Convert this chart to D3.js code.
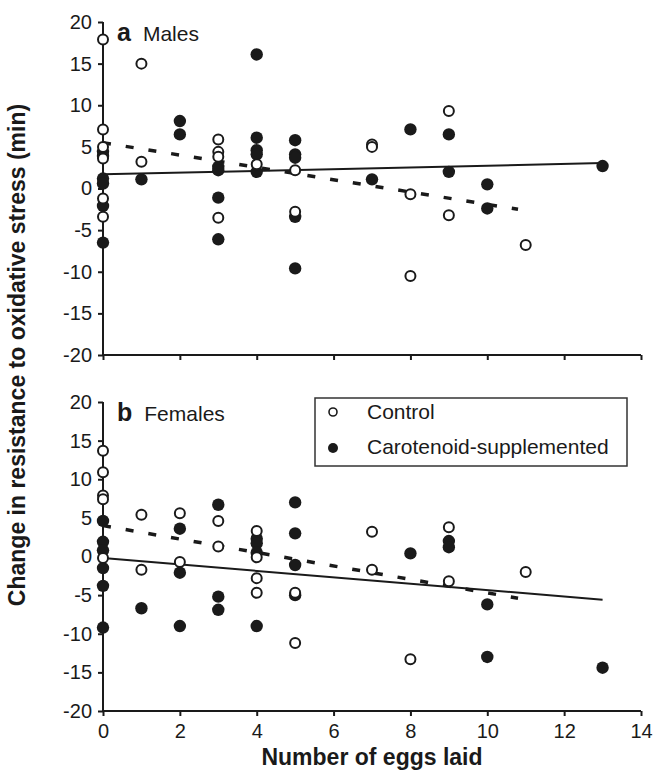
<!DOCTYPE html>
<html>
<head>
<meta charset="utf-8">
<script src="https://cdn.jsdelivr.net/npm/d3@7"></script>
<style>
  body { margin: 0; background: #fff; }
  text { font-family: "Liberation Sans", Arial, sans-serif; fill: #1a1a1a; }
</style>
</head>
<body>
<div id="chart"></div>
<script>
// data: [eggs laid, change in resistance (min)]
var malesControl = [
  [0,17.9],[0,7.1],[0,5.0],[0,3.6],[0,-1.2],[0,-3.4],
  [1,15.0],[1,3.2],
  [3,5.9],[3,4.4],[3,3.8],[3,-3.5],
  [4,2.9],
  [5,2.2],[5,-2.8],
  [7,5.3],[7,5.0],
  [8,-0.7],[8,-10.5],
  [9,9.3],[9,-3.2],
  [11,-6.8]
];
var malesCarotenoid = [
  [0,4.4],[0,3.9],[0,1.2],[0,0.6],[0,-2.1],[0,-6.5],
  [1,1.1],
  [2,8.1],[2,6.5],
  [3,2.6],[3,2.2],[3,-1.1],[3,-6.1],
  [4,16.1],[4,6.1],[4,4.6],[4,4.1],[4,2.0],
  [5,5.8],[5,4.1],[5,3.7],[5,-3.4],[5,-9.6],
  [7,1.1],
  [8,7.1],
  [9,6.5],[9,2.0],
  [10,0.5],[10,-2.4],
  [13,2.7]
];
var femalesControl = [
  [0,13.7],[0,10.9],[0,7.9],[0,7.4],[0,-0.2],
  [1,5.4],[1,-1.7],
  [2,5.6],[2,-0.7],
  [3,4.6],[3,1.3],
  [4,3.3],[4,-0.1],[4,-2.8],[4,-4.7],
  [5,-4.7],[5,-11.2],
  [7,3.2],[7,-1.7],
  [8,-13.3],
  [9,3.8],[9,-3.2],
  [11,-2.0]
];
var femalesCarotenoid = [
  [0,4.6],[0,1.9],[0,0.8],[0,-1.5],[0,-3.8],[0,-9.2],
  [1,-6.7],
  [2,3.6],[2,-2.1],[2,-9.0],
  [3,6.7],[3,-5.2],[3,-6.9],
  [4,2.3],[4,1.7],[4,0.5],[4,-9.0],
  [5,7.0],[5,3.0],[5,-1.1],[5,-5.0],
  [8,0.4],
  [9,2.0],[9,1.2],
  [10,-6.2],[10,-13.0],
  [13,-14.4]
];
// fitted lines (end points)
var malesSolid = [[0,1.7],[13,3.05]];
var malesDashed = [[0,5.5],[10.8,-2.5]];
var femalesSolid = [[0,-0.2],[13,-5.6]];
var femalesDashed = [[0,4.0],[10.8,-5.4]];

var xTicks = [0,2,4,6,8,10,12,14];
var yTicks = [-20,-15,-10,-5,0,5,10,15,20];
var legendLabels = ["Control", "Carotenoid-supplemented"];

var width = 665, height = 774;
var ink = "#1a1a1a";

var svg = d3.select("#chart")
  .append("svg")
    .attr("width", width)
    .attr("height", height);

var x = d3.scaleLinear().domain([0, 14]).range([103, 641]);

// plain hyphen for negatives, like the original
var fmt = function(d) { return String(d); };

function drawPanel(top, bottom, control, carot, solid, dashed, letter, title, showXLabels) {
  var y = d3.scaleLinear().domain([-20, 20]).range([bottom, top]);

  // y axis
  var ya = svg.append("g")
    .attr("transform", "translate(" + x(0) + ",0)")
    .call(d3.axisLeft(y).tickValues(yTicks).tickSize(5).tickPadding(6).tickFormat(fmt));
  // x axis
  var xa = svg.append("g")
    .attr("transform", "translate(0," + bottom + ")")
    .call(d3.axisBottom(x).tickValues(xTicks).tickSize(5).tickPadding(8)
      .tickFormat(showXLabels ? fmt : ""));
  [ya, xa].forEach(function(a) {
    a.select(".domain").attr("stroke", ink).attr("stroke-width", 2)
    a.selectAll(".tick line").attr("stroke", ink).attr("stroke-width", 2)
    a.selectAll("text").style("font-size", "20px").attr("fill", ink)
  });
  ya.select(".domain").attr("d", "M0," + bottom + "V" + top);
  xa.select(".domain").attr("d", "M" + x(0) + ",0H" + x(14));

  var line = d3.line().x(function(d) { return x(d[0]); }).y(function(d) { return y(d[1]); });

  // regression lines
  svg.append("path").datum(solid)
    .attr("d", line).attr("fill", "none").attr("stroke", ink).attr("stroke-width", 2);
  svg.append("path").datum(dashed)
    .attr("d", line).attr("fill", "none").attr("stroke", ink).attr("stroke-width", 3.5)
    .attr("stroke-dasharray", "8,15");

  // points
  svg.append("g").selectAll("circle")
    .data(carot).enter().append("circle")
      .attr("cx", function(d) { return x(d[0]); })
      .attr("cy", function(d) { return y(d[1]); })
      .attr("r", 6.2)
      .attr("fill", ink);
  svg.append("g").selectAll("circle")
    .data(control).enter().append("circle")
      .attr("cx", function(d) { return x(d[0]); })
      .attr("cy", function(d) { return y(d[1]); })
      .attr("r", 5)
      .attr("fill", "#fff")
      .attr("stroke", ink)
      .attr("stroke-width", 2);

  // panel label
  var lab = svg.append("text").attr("x", 117).attr("y", top + 19);
  lab.append("tspan").attr("font-weight", "bold").style("font-size", "25px").text(letter);
  lab.append("tspan").attr("dx", 12).style("font-size", "21px").text(title);
}

drawPanel(22, 355, malesControl, malesCarotenoid, malesSolid, malesDashed, "a", "Males", false);
drawPanel(402, 711, femalesControl, femalesCarotenoid, femalesSolid, femalesDashed, "b", "Females", true);

// legend
var lg = svg.append("g");
lg.append("rect")
  .attr("x", 315).attr("y", 398).attr("width", 312).attr("height", 68)
  .attr("fill", "#fff").attr("stroke", "#333").attr("stroke-width", 1.5);
lg.append("circle").attr("cx", 333).attr("cy", 412).attr("r", 4)
  .attr("fill", "#fff").attr("stroke", ink).attr("stroke-width", 1.6);
lg.append("circle").attr("cx", 333).attr("cy", 448).attr("r", 5).attr("fill", ink);
lg.selectAll("text.lbl").data(legendLabels).enter().append("text")
  .attr("class", "lbl")
  .attr("x", 367)
  .attr("y", function(d, i) { return 412 + i * 35; })
  .attr("dy", "0.35em")
  .style("font-size", "21px")
  .text(function(d) { return d; });

// axis titles
svg.append("text")
  .attr("x", x(7)).attr("y", 765)
  .attr("text-anchor", "middle")
  .attr("font-weight", "bold")
  .style("font-size", "23px")
  .text("Number of eggs laid");

svg.append("text")
  .attr("transform", "translate(25,355)rotate(-90)")
  .attr("text-anchor", "middle")
  .attr("font-weight", "bold")
  .style("font-size", "23px")
  .text("Change in resistance to oxidative stress (min)");
</script>
</body>
</html>
